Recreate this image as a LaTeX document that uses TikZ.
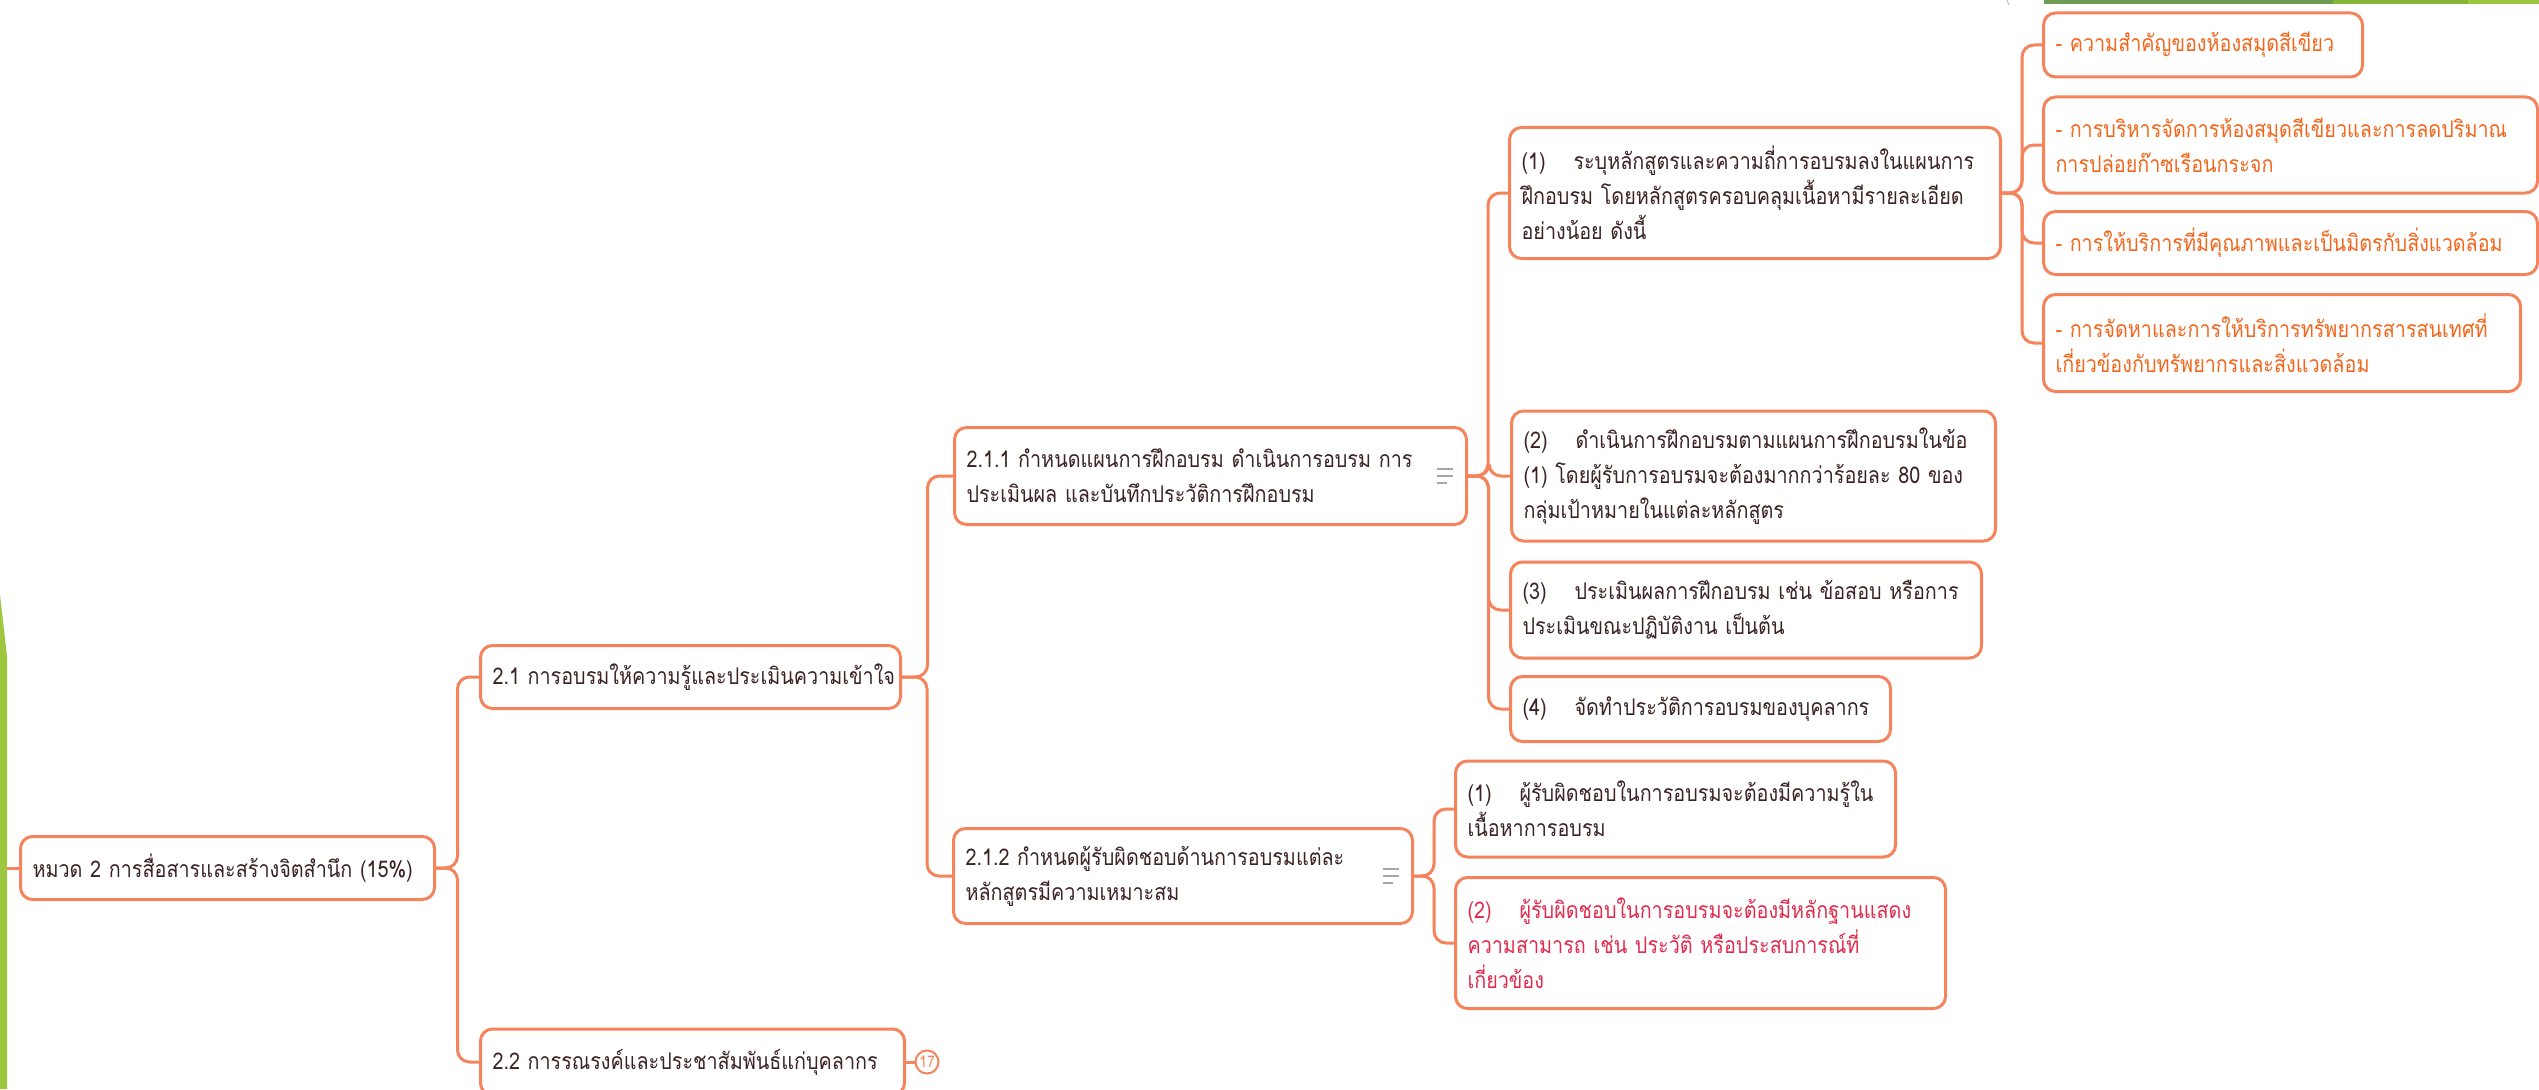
\documentclass[tikz,border=0pt]{standalone}
\usepackage{fontspec}
\usepackage{tikz}
\usetikzlibrary{backgrounds}
\usetikzlibrary{calc}
\newfontfamily\thaifont[Script=Thai, FakeStretch=0.86]{Loma}
\definecolor{linkc}{HTML}{F5845C}
\definecolor{ink}{HTML}{3C2323}
\definecolor{leafc}{HTML}{F4661B}
\definecolor{redc}{HTML}{E22B4E}
\definecolor{barc}{HTML}{9CC73F}
\definecolor{topga}{HTML}{6F9C53}
\definecolor{topgb}{HTML}{86B737}
\definecolor{topgc}{HTML}{9CC83E}
\newcommand{\itemno}[1]{\makebox[52pt][l]{#1}}

\tikzset{
  topic/.style={draw=linkc, line width=3pt, rounded corners=12pt, fill=white, anchor=west,
    align=left, inner xsep=12pt, inner ysep=0pt, text=ink,
    font=\thaifont\fontsize{23}{35}\selectfont},
  leaf/.style={topic, text=leafc},
  link/.style={draw=linkc, line width=3pt, rounded corners=12pt},
  note/.style={draw=gray!70, line width=2pt},
}

\begin{document}
\begin{tikzpicture}[x=1pt, y=-1pt]
      \useasboundingbox (0,0) rectangle (2539,1089);

      \fill[barc] (0,595) -- (7,656) -- (7,1089) -- (0,1089) -- cycle;
      \fill[topga] (2044,0) rectangle (2333,4);
      \fill[topgb] (2333,0) rectangle (2468,4);
      \fill[topgc] (2468,0) rectangle (2539,4);
      \draw[gray!50, line width=1pt] (2007,0) -- (2009,5);
      \coordinate (bar) at (7,868);

      \node[topic, text width=390pt, minimum height=63pt] (root) at (19,868) {หมวด~2~การสื่อสารและสร้างจิตสำนึก~(15\%)};
      \node[topic, text width=396pt, minimum height=63pt] (t21) at (479,677) {2.1~การอบรมให้ความรู้และประเมินความเข้าใจ};
      \node[topic, text width=400pt, minimum height=66pt] (t22) at (479,1062) {2.2~การรณรงค์และประชาสัมพันธ์แก่บุคลากร};
      \node[draw=linkc, line width=2pt, circle, fill=white, inner sep=0pt, minimum size=23pt, text=linkc,
            font=\thaifont\fontsize{16}{16}\selectfont] (n17) at (927,1062) {17};

      \node[topic, text width=488pt, minimum height=97pt] (t211) at (953,476) {2.1.1~กำหนดแผนการฝึกอบรม~ดำเนินการอบรม~การ\\ประเมินผล~และบันทึกประวัติการฝึกอบรม};
      \node[topic, text width=435pt, minimum height=95pt] (t212) at (952,876) {2.1.2~กำหนดผู้รับผิดชอบด้านการอบรมแต่ละ\\หลักสูตรมีความเหมาะสม};

      \node[topic, text width=467pt, minimum height=131pt] (c1) at (1508,193) {\itemno{(1)}ระบุหลักสูตรและความถี่การอบรมลงในแผนการ\\ฝึกอบรม~โดยหลักสูตรครอบคลุมเนื้อหามีรายละเอียด\\อย่างน้อย~ดังนี้};
      \node[topic, text width=460pt, minimum height=130pt] (c2) at (1510,476) {\itemno{(2)}ดำเนินการฝึกอบรมตามแผนการฝึกอบรมในข้อ\\(1)~โดยผู้รับการอบรมจะต้องมากกว่าร้อยละ~80~ของ\\กลุ่มเป้าหมายในแต่ละหลักสูตร};
      \node[topic, text width=447pt, minimum height=96pt] (c3) at (1509,610) {\itemno{(3)}ประเมินผลการฝึกอบรม~เช่น~ข้อสอบ~หรือการ\\ประเมินขณะปฏิบัติงาน~เป็นต้น};
      \node[topic, text width=356pt, minimum height=65pt] (c4) at (1509,709) {\itemno{(4)}จัดทำประวัติการอบรมของบุคลากร};

      \node[topic, text width=416pt, minimum height=96pt] (d1) at (1454,809) {\itemno{(1)}ผู้รับผิดชอบในการอบรมจะต้องมีความรู้ใน\\เนื้อหาการอบรม};
      \node[topic, text=redc, text width=466pt, minimum height=131pt] (d2) at (1454,943) {\itemno{(2)}ผู้รับผิดชอบในการอบรมจะต้องมีหลักฐานแสดง\\ความสามารถ~เช่น~ประวัติ~หรือประสบการณ์ที่\\เกี่ยวข้อง};

      \node[leaf, text width=295pt, minimum height=64pt] (e1) at (2042,45) {-~ความสำคัญของห้องสมุดสีเขียว};
      \node[leaf, text width=470pt, minimum height=96pt] (e2) at (2042,145) {-~การบริหารจัดการห้องสมุดสีเขียวและการลดปริมาณ\\การปล่อยก๊าซเรือนกระจก};
      \node[leaf, text width=470pt, minimum height=63pt] (e3) at (2042,243) {-~การให้บริการที่มีคุณภาพและเป็นมิตรกับสิ่งแวดล้อม};
      \node[leaf, text width=453pt, minimum height=97pt] (e4) at (2042,343) {-~การจัดหาและการให้บริการทรัพยากรสารสนเทศที่\\เกี่ยวข้องกับทรัพยากรและสิ่งแวดล้อม};

      \foreach \n in {t211,t212} {
        \draw[note] ([xshift=-31pt,yshift=7pt]\n.east) -- ++(16,0);
        \draw[note] ([xshift=-31pt]\n.east) -- ++(16,0);
        \draw[note] ([xshift=-31pt,yshift=-7pt]\n.east) -- ++(10,0);
      }

      \begin{scope}[on background layer]
        \fill[white] (0,0) rectangle (2539,1089);
        \draw[link] (bar) -- (root.west);
        \foreach \a/\b in {root/t21, root/t22, t21/t211, t21/t212, t211/c1, t211/c2, t211/c3, t211/c4,
                           t212/d1, t212/d2, c1/e1, c1/e2, c1/e3, c1/e4}
          \draw[link] (\a.east) -| ($(\a.east)!.5!(\b.west)$) |- (\b.west);
        \draw[link] (t22.east) -- (n17.west);
      \end{scope}
    \end{tikzpicture}
\end{document}
